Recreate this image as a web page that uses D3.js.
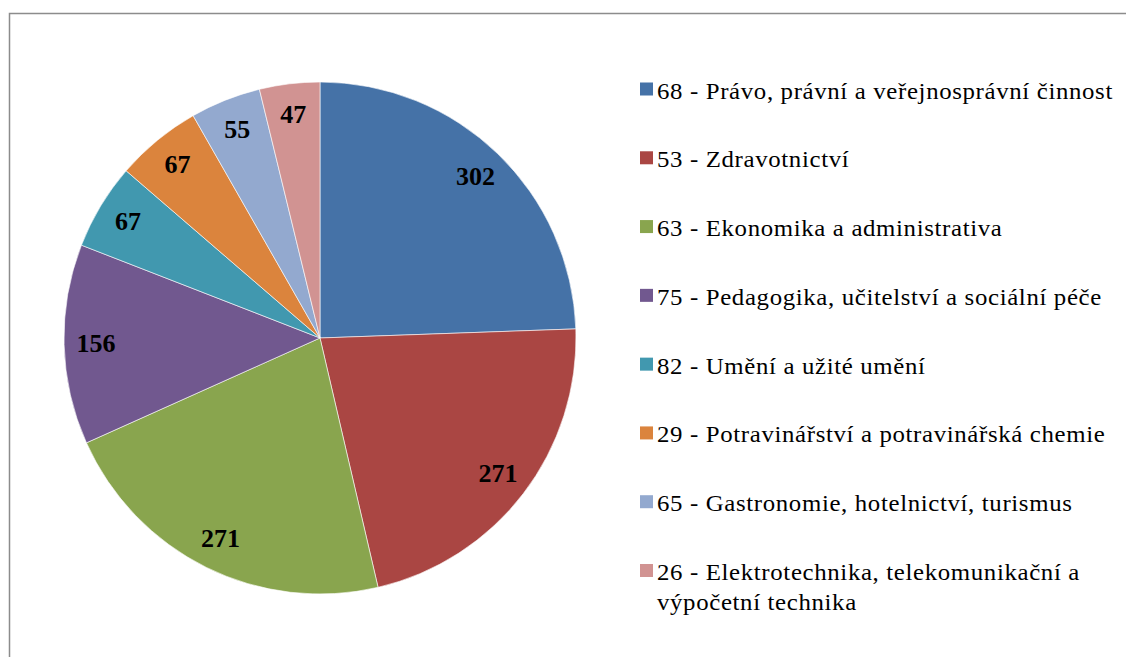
<!DOCTYPE html>
<html>
<head>
<meta charset="utf-8">
<script src="https://cdn.jsdelivr.net/npm/d3@7"></script>
<style>
  body { margin: 0; background: #fff; }
  svg { display: block; }
  .serif { font-family: "Liberation Serif", "Times New Roman", Times, "DejaVu Serif", serif; }
</style>
</head>
<body>
<div id="chart"></div>
<script>
var labels = [
  "68 - Právo, právní a veřejnosprávní činnost",
  "53 - Zdravotnictví",
  "63 - Ekonomika a administrativa",
  "75 - Pedagogika, učitelství a sociální péče",
  "82 - Umění a užité umění",
  "29 - Potravinářství a potravinářská chemie",
  "65 - Gastronomie, hotelnictví, turismus",
  "26 - Elektrotechnika, telekomunikační a|výpočetní technika"
]
var values = [302, 271, 271, 156, 67, 67, 55, 47]
var colours = ["#4572A7", "#AA4643", "#89A54E", "#71588F", "#4198AF", "#DB843D", "#93A9CF", "#D19392"]

var width = 1126, height = 657
var cx = 320, cy = 338, radius = 256

var svg = d3.select("#chart").append("svg")
  .attr("width", width)
  .attr("height", height)

// outer frame (right/bottom edges fall outside the picture)
svg.append("rect")
  .attr("x", 9.5).attr("y", 13.5)
  .attr("width", width + 20).attr("height", height + 20)
  .attr("fill", "none")
  .attr("stroke", "#8c8c8c")
  .attr("stroke-width", 1.5)

var data = values.map(function(v, i){ return {value: v, label: labels[i], colour: colours[i]} })

var pie = d3.pie().sort(null).value(function(d){ return d.value })
var arc = d3.arc().innerRadius(0).outerRadius(radius)
var labelArc = d3.arc().innerRadius(224).outerRadius(224)

var g = svg.append("g").attr("transform", "translate(" + cx + "," + cy + ")")

g.selectAll("path")
  .data(pie(data))
  .enter().append("path")
  .attr("d", arc)
  .attr("fill", function(d){ return d.data.colour })
  .attr("stroke", "#fff")
  .attr("stroke-width", 0.6)

g.selectAll("text")
  .data(pie(data))
  .enter().append("text")
  .attr("class", "serif")
  .attr("transform", function(d){ return "translate(" + labelArc.centroid(d) + ")" })
  .attr("text-anchor", "middle")
  .attr("dy", "0.3em")
  .attr("font-weight", "bold")
  .attr("font-size", 26)
  .text(function(d){ return d.data.value })

// legend
var ly = d3.scaleLinear().domain([0, 7]).range([98.5, 580])
var legend = svg.append("g")

var items = legend.selectAll("g")
  .data(data)
  .enter().append("g")
  .attr("transform", function(d, i){ return "translate(640," + ly(i) + ")" })

items.append("rect")
  .attr("x", 0).attr("y", -16)
  .attr("width", 13).attr("height", 13)
  .attr("fill", function(d){ return d.colour })

// text a bit wider than plain Times, like the original rendering
var txt = items.append("text")
  .attr("class", "serif")
  .attr("transform", "translate(17,0) scale(1.08,1)")
  .attr("font-size", 23)
  .attr("letter-spacing", "0.6px")
  .attr("fill", "#000")

txt.each(function(d){
  var parts = d.label.split("|")
  var t = d3.select(this)
  parts.forEach(function(p, j){
    t.append("tspan")
      .attr("x", 0)
      .attr("dy", j == 0 ? 0 : 30)
      .text(p)
  })
})
</script>
</body>
</html>
